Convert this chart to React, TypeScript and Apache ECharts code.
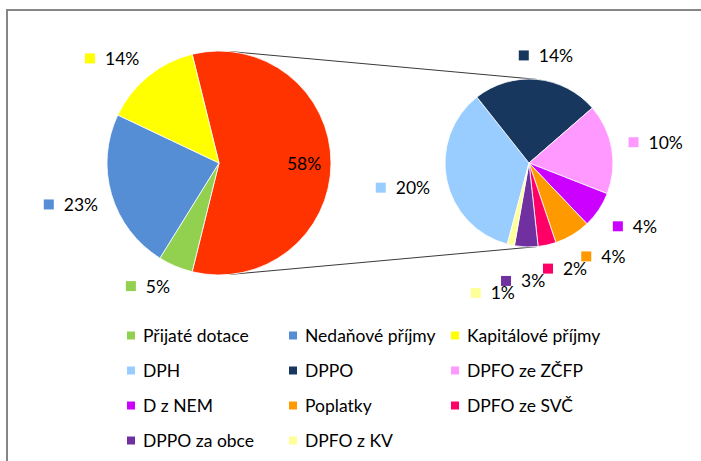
import React, { useEffect, useRef } from 'react';
import * as echarts from 'echarts';

// ---- data ----
const mainNames = ['Přijaté dotace', 'Nedaňové příjmy', 'Kapitálové příjmy'];
const mainValues = [5.0, 23.2, 14.1];
const mainColors = ['#92D050', '#558ED5', '#FFFF00'];
const otherName = 'Daňové příjmy';
const otherColor = '#FF3300';
const subNames = ['DPH', 'DPPO', 'DPFO ze ZČFP', 'D z NEM', 'Poplatky', 'DPFO ze SVČ', 'DPPO za obce', 'DPFO z KV'];
const subValues = [20.3, 14.0, 10.0, 4.0, 4.0, 2.0, 2.6, 0.8];
const subColors = ['#99CCFF', '#17375E', '#FF99FF', '#CC00FF', '#FF9900', '#FF0066', '#7030A0', '#FFFF99'];

// ---- layout / style ----
const FONT = 'Lato, "Open Sans", sans-serif';
const FS = 17.5;
const C1 = [219, 163];
const R1 = 112;
const C2 = [529, 163];
const R2 = 84;
const GAPS = [14, 17];
const INNER_FRAC = 0.76;
const SUB_START = 255;

const sum = (a: number[]) => a.reduce((x, y) => x + y, 0);
const otherValue = sum(subValues);
const leftValues = [otherValue, ...mainValues];
const total = sum(leftValues);
const leftStart = ((otherValue / total) * 360) / 2;

function midAngles(values: number[], start: number) {
  const s = sum(values);
  let acc = 0;
  return values.map((v) => {
    const span = (v / s) * 360;
    const mid = start - acc - span / 2;
    acc += span;
    return (mid * Math.PI) / 180;
  });
}
const leftMids = midAngles(leftValues, leftStart);
const rightMids = midAngles(subValues, SUB_START);

const pct = (v: number) => `${Math.round((v / total) * 100)}%`;
const clamp1 = (v: number) => Math.max(-1, Math.min(1, v));

export default function App() {
  const ref = useRef<HTMLDivElement>(null);
  useEffect(() => {
    if (!ref.current) return;
    const chart = echarts.init(ref.current, undefined, { renderer: 'svg' });

    type Box = { x0: number; x1: number; y0: number; y1: number; low: boolean };
    const placed: Record<number, Box[]> = { 0: [], 1: [] };

    const labelLayout = (params: any) => {
      const s = params.seriesIndex;
      const i = params.dataIndex;
      const mids = s === 0 ? leftMids : rightMids;
      const C = s === 0 ? C1 : C2;
      const R = s === 0 ? R1 : R2;
      const a = mids[i];
      const dx = Math.cos(a);
      const dy = -Math.sin(a);
      if (s === 0 && i === 0) {
        return {
          x: C[0] + dx * R * INNER_FRAC,
          y: C[1] + dy * R * INNER_FRAC,
          align: 'center',
          verticalAlign: 'middle',
        };
      }
      if (i === (s === 0 ? 1 : 0)) placed[s] = [];
      const w = params.labelRect.width;
      const h = 14;
      const hc = 12; // tight glyph height used for collisions
      const sx = clamp1(dx * 3);
      const sy = clamp1(dy * 3);
      const low = dy > 0.3;
      const list = placed[s];
      const prev = list.length ? list[list.length - 1] : null;
      let d = R + GAPS[s];
      let cx = 0;
      let cy = 0;
      const mk = (x: number, y: number): Box => ({
        x0: x - w / 2,
        x1: x + w / 2,
        y0: y - hc / 2,
        y1: y + hc / 2,
        low,
      });
      let box = mk(0, 0);
      for (let k = 0; k < 80; k++) {
        cx = C[0] + dx * d + (sx * w) / 2;
        cy = C[1] + dy * d + (sy * h) / 2;
        box = mk(cx, cy);
        const hit = list.some(
          (b) => b.x0 < box.x1 && box.x0 < b.x1 && b.y0 < box.y1 && box.y0 < b.y1
        );
        if (!hit) break;
        d += 1;
      }
      // below the pie, consecutive labels step downwards like a staircase
      if (low && prev && prev.low && box.y0 < prev.y1) {
        cy = prev.y1 + hc / 2;
        box = mk(cx, cy);
      }
      list.push(box);
      return { x: cx, y: cy, align: 'center', verticalAlign: 'middle' };
    };

    const makeRich = (colors: string[]) => {
      const rich: Record<string, any> = {
        t: { fontFamily: FONT, fontSize: FS, color: '#000', padding: [0, 0, 0, 10] },
        ti: { fontFamily: FONT, fontSize: FS, color: '#000' },
      };
      colors.forEach((c, k) => {
        rich['s' + k] = { width: 10, height: 10, backgroundColor: c, verticalAlign: 'middle' };
      });
      return rich;
    };

    const leftColors = [otherColor, ...mainColors];
    const leftData = leftValues.map((v, k) => ({
      name: k === 0 ? otherName : mainNames[k - 1],
      value: v,
      itemStyle: { color: leftColors[k] },
    }));
    const rightData = subValues.map((v, k) => ({
      name: subNames[k],
      value: v,
      itemStyle: { color: subColors[k] },
    }));

    // external common tangents between the two pies
    const dist = C2[0] - C1[0];
    const sinT = (R1 - R2) / dist;
    const cosT = Math.sqrt(1 - sinT * sinT);
    const lineStyle = { stroke: '#3a3a3a', lineWidth: 1 };

    chart.setOption({
      animation: false,
      backgroundColor: '#ffffff',
      textStyle: { fontFamily: FONT },
      legend: {
        data: [...mainNames, ...subNames],
        left: 125,
        top: 318,
        width: 500,
        padding: 0,
        orient: 'horizontal',
        itemWidth: 10,
        itemHeight: 10,
        itemGap: 0,
        icon: 'rect',
        selectedMode: false,
        textStyle: {
          fontFamily: FONT,
          fontSize: FS,
          color: '#000',
          width: 144,
          lineHeight: 35,
          padding: [0, 0, 0, 2],
        },
      },
      graphic: [
        {
          type: 'rect',
          shape: { x: 7, y: 10, width: 900, height: 700 },
          style: { fill: 'none', stroke: '#868686', lineWidth: 2 },
          z: 0,
        },
        {
          type: 'line',
          shape: {
            x1: C1[0] + R1 * sinT,
            y1: C1[1] - R1 * cosT,
            x2: C2[0] + R2 * sinT,
            y2: C2[1] - R2 * cosT,
          },
          style: lineStyle,
          z: 0,
        },
        {
          type: 'line',
          shape: {
            x1: C1[0] + R1 * sinT,
            y1: C1[1] + R1 * cosT,
            x2: C2[0] + R2 * sinT,
            y2: C2[1] + R2 * cosT,
          },
          style: lineStyle,
          z: 0,
        },
      ],
      series: [
        {
          type: 'pie',
          center: C1,
          radius: R1,
          startAngle: leftStart,
          clockwise: true,
          avoidLabelOverlap: false,
          data: leftData,
          itemStyle: { borderColor: '#ffffff', borderWidth: 0.8 },
          label: {
            show: true,
            position: 'outside',
            rich: makeRich(mainColors),
            formatter: (p: any) =>
              p.dataIndex === 0 ? `{ti|${pct(p.value)}}` : `{s${p.dataIndex - 1}|}{t|${pct(p.value)}}`,
          },
          labelLine: { show: false },
          labelLayout,
          emphasis: { disabled: true },
        },
        {
          type: 'pie',
          center: C2,
          radius: R2,
          startAngle: SUB_START,
          clockwise: true,
          avoidLabelOverlap: false,
          data: rightData,
          itemStyle: { borderColor: '#ffffff', borderWidth: 0.8 },
          label: {
            show: true,
            position: 'outside',
            rich: makeRich(subColors),
            formatter: (p: any) => `{s${p.dataIndex}|}{t|${pct(p.value)}}`,
          },
          labelLine: { show: false },
          labelLayout,
          emphasis: { disabled: true },
        },
      ],
    });
    return () => chart.dispose();
  }, []);

  return (
    <div
      ref={ref}
      style={{ position: 'fixed', left: 0, top: 0, width: 701, height: 461, background: '#fff' }}
    />
  );
}
